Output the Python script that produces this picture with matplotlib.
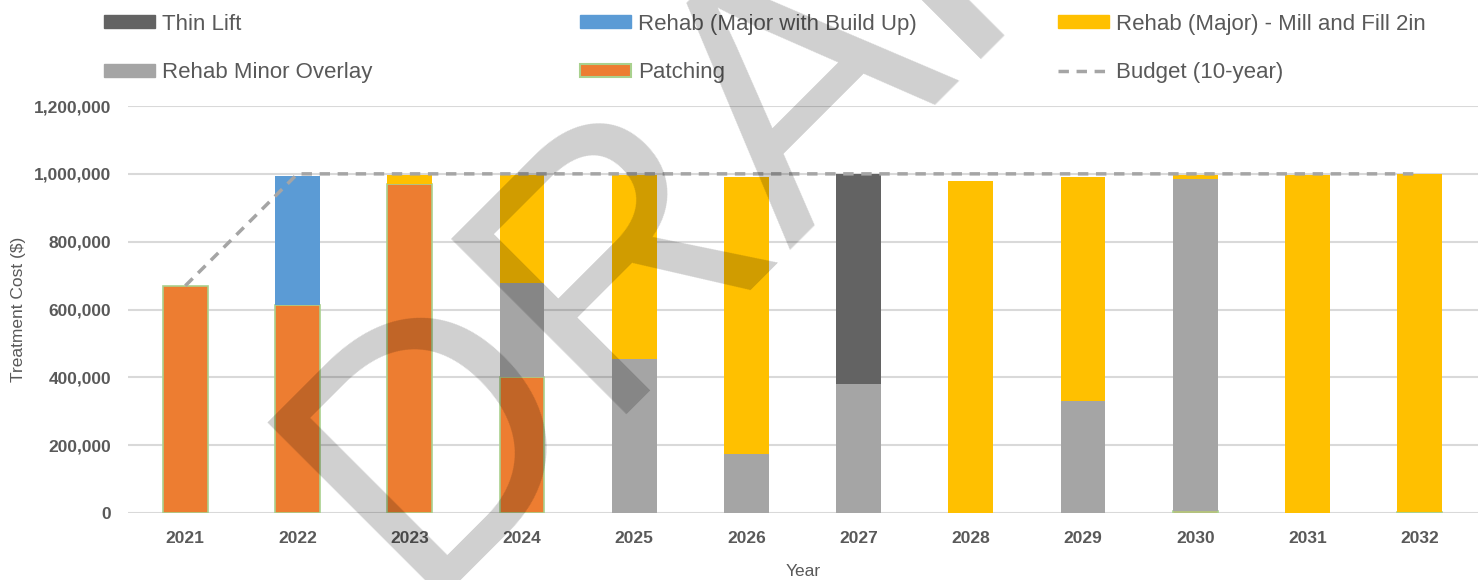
import numpy as np
import matplotlib.pyplot as plt
from matplotlib.patches import Patch
from matplotlib.lines import Line2D

plt.rcParams['font.family'] = ['Liberation Sans', 'DejaVu Sans']

# data
years = ['2021', '2022', '2023', '2024', '2025', '2026', '2027', '2028', '2029', '2030', '2031', '2032']
patching = [670000, 613000, 970000, 402000, 0, 0, 0, 0, 0, 5000, 0, 2000]
minor_overlay = [0, 0, 0, 275000, 454000, 175000, 380000, 0, 330000, 980000, 0, 0]
thin_lift = [0, 0, 0, 0, 0, 0, 620000, 0, 0, 0, 0, 0]
major_build_up = [0, 382000, 0, 0, 0, 0, 0, 0, 0, 0, 0, 0]
mill_fill = [0, 0, 27000, 320000, 543000, 816000, 0, 979000, 662000, 13000, 997000, 998000]
budget = [670000, 1000000, 1000000, 1000000, 1000000, 1000000, 1000000, 1000000, 1000000, 1000000, 1000000, 1000000]

text_col = '#595959'
c_orange = '#ed7d31'
c_green = '#a9d18e'
c_gray = '#a5a5a5'
c_dark = '#636363'
c_blue = '#5b9bd5'
c_yellow = '#ffc000'

fig = plt.figure(figsize=(14.84, 5.8), dpi=100)
ax = fig.add_axes([0.0863, 0.1155, 0.9097, 0.7017])

x = np.arange(len(years))
w = 0.4
bottom = np.zeros(len(years))
series = [
    (patching, c_orange, c_green, 1.2),
    (minor_overlay, c_gray, c_gray, 0),
    (thin_lift, c_dark, c_dark, 0),
    (major_build_up, c_blue, c_blue, 0),
    (mill_fill, c_yellow, c_yellow, 0),
]
for vals, col, ec, lw in series:
    vals = np.array(vals, dtype=float)
    ax.bar(x, vals, w, bottom=bottom, color=col, edgecolor=ec, linewidth=lw, zorder=3)
    bottom += vals

ax.plot(x, budget, color=c_gray, linestyle=(0, (3, 2.2)), linewidth=2.5, zorder=4)

ax.set_ylim(0, 1200000)
ax.set_xlim(-0.51, 11.52)
ax.set_yticks(np.arange(0, 1200001, 200000))
ax.yaxis.set_major_formatter(plt.FuncFormatter(lambda v, p: f'{int(v):,}'))
ax.set_xticks(x)
ax.set_xticklabels(years)
for lab in ax.get_xticklabels() + ax.get_yticklabels():
    lab.set_fontweight('bold')
    lab.set_color(text_col)
    lab.set_fontsize(12.5)
ax.tick_params(length=0, pad=13)
ax.tick_params(axis='y', pad=12)
ax.grid(axis='y', color='#d9d9d9', linewidth=1.5, zorder=0)
for s in ax.spines.values():
    s.set_visible(False)
ax.set_ylabel('Treatment Cost ($)', color=text_col, fontsize=12.5, labelpad=6)
ax.set_xlabel('Year', color=text_col, fontsize=12.5, labelpad=13)

# legend, three columns placed like Excel does
cols = [
    [Patch(facecolor=c_dark, edgecolor=c_dark, label='Thin Lift'),
     Patch(facecolor=c_gray, edgecolor=c_gray, label='Rehab Minor Overlay')],
    [Patch(facecolor=c_blue, edgecolor=c_blue, label='Rehab (Major with Build Up)'),
     Patch(facecolor=c_orange, edgecolor=c_green, linewidth=1.5, label='Patching')],
    [Patch(facecolor=c_yellow, edgecolor=c_yellow, label='Rehab (Major) - Mill and Fill 2in'),
     Line2D([0], [0], color=c_gray, linestyle=(0, (3, 2.2)), linewidth=2.5, label='Budget (10-year)')],
]
for hs, xpos in zip(cols, [0.064, 0.385, 0.707]):
    leg = fig.legend(handles=hs, loc='upper left', bbox_to_anchor=(xpos, 0.992), frameon=False,
                     fontsize=16, handlelength=2.3, handleheight=0.55, handletextpad=0.3,
                     labelspacing=1.25, borderaxespad=0)
    for t in leg.get_texts():
        t.set_color(text_col)

# draft watermark over everything
fig.text(0.521, 0.816, 'DRAFT', rotation=45, fontsize=260, ha='center', va='center',
         color='black', alpha=0.19, rotation_mode='anchor', zorder=10)

fig.savefig('out.png', dpi=100)
